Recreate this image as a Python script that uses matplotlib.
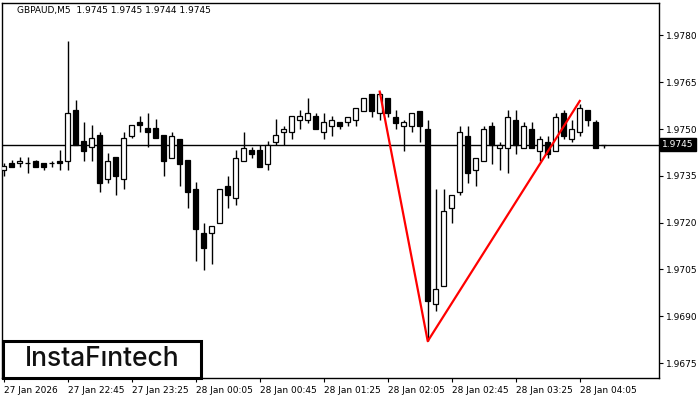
import numpy as np
import matplotlib
matplotlib.use("Agg")
import matplotlib.pyplot as plt
from matplotlib.patches import Rectangle

# GBPAUD M5 candles, bar 0 = 27 Jan 22:05
opens = [1.97370, 1.97390, 1.97390, 1.97390, 1.97399, 1.97390, 1.97390, 1.97399, 1.97399, 1.97561,
         1.97461, 1.97441, 1.97480, 1.97340, 1.97410, 1.97340, 1.97479, 1.97522, 1.97502, 1.97502,
         1.97480, 1.97408, 1.97469, 1.97400, 1.97309, 1.97168, 1.97166, 1.97200, 1.97318, 1.97280,
         1.97399, 1.97432, 1.97432, 1.97389, 1.97460, 1.97489, 1.97489, 1.97530, 1.97530, 1.97541,
         1.97489, 1.97511, 1.97521, 1.97521, 1.97530, 1.97559, 1.97611, 1.97550, 1.97601, 1.97540,
         1.97511, 1.97511, 1.97559, 1.97501, 1.96940, 1.96997, 1.97248, 1.97298, 1.97479, 1.97370,
         1.97399, 1.97511, 1.97440, 1.97440, 1.97530, 1.97440, 1.97501, 1.97431, 1.97460, 1.97431,
         1.97550, 1.97468, 1.97489, 1.97560, 1.97521, 1.97450]
highs = [1.97390, 1.97400, 1.97409, 1.97409, 1.97400, 1.97390, 1.97399, 1.97432, 1.97782, 1.97593,
         1.97522, 1.97512, 1.97490, 1.97423, 1.97410, 1.97490, 1.97512, 1.97541, 1.97551, 1.97532,
         1.97480, 1.97489, 1.97469, 1.97400, 1.97329, 1.97200, 1.97190, 1.97309, 1.97350, 1.97432,
         1.97489, 1.97441, 1.97450, 1.97461, 1.97531, 1.97511, 1.97541, 1.97560, 1.97601, 1.97550,
         1.97550, 1.97541, 1.97521, 1.97540, 1.97569, 1.97601, 1.97611, 1.97620, 1.97601, 1.97560,
         1.97530, 1.97550, 1.97559, 1.97530, 1.97309, 1.97309, 1.97290, 1.97511, 1.97511, 1.97408,
         1.97511, 1.97521, 1.97460, 1.97560, 1.97560, 1.97521, 1.97521, 1.97479, 1.97479, 1.97550,
         1.97560, 1.97530, 1.97579, 1.97560, 1.97530, 1.97450]
lows = [1.97350, 1.97379, 1.97379, 1.97360, 1.97379, 1.97370, 1.97379, 1.97370, 1.97370, 1.97450,
        1.97399, 1.97399, 1.97299, 1.97327, 1.97289, 1.97308, 1.97470, 1.97490, 1.97441, 1.97470,
        1.97350, 1.97408, 1.97317, 1.97247, 1.97077, 1.97048, 1.97067, 1.97200, 1.97247, 1.97256,
        1.97399, 1.97408, 1.97378, 1.97369, 1.97450, 1.97450, 1.97468, 1.97500, 1.97520, 1.97500,
        1.97468, 1.97479, 1.97500, 1.97510, 1.97510, 1.97559, 1.97539, 1.97530, 1.97539, 1.97500,
        1.97430, 1.97489, 1.97459, 1.96820, 1.96916, 1.96997, 1.97199, 1.97288, 1.97327, 1.97317,
        1.97399, 1.97388, 1.97369, 1.97359, 1.97420, 1.97440, 1.97440, 1.97399, 1.97408, 1.97431,
        1.97468, 1.97459, 1.97479, 1.97510, 1.97440, 1.97440]
closes = [1.97381, 1.97379, 1.97399, 1.97390, 1.97379, 1.97379, 1.97390, 1.97390, 1.97550, 1.97450,
          1.97430, 1.97470, 1.97327, 1.97399, 1.97350, 1.97470, 1.97512, 1.97512, 1.97490, 1.97470,
          1.97399, 1.97478, 1.97388, 1.97298, 1.97179, 1.97118, 1.97190, 1.97309, 1.97288, 1.97408,
          1.97440, 1.97420, 1.97378, 1.97450, 1.97480, 1.97501, 1.97541, 1.97541, 1.97550, 1.97500,
          1.97521, 1.97530, 1.97511, 1.97540, 1.97569, 1.97601, 1.97559, 1.97611, 1.97550, 1.97520,
          1.97521, 1.97550, 1.97510, 1.96948, 1.96987, 1.97238, 1.97290, 1.97489, 1.97359, 1.97408,
          1.97501, 1.97450, 1.97449, 1.97540, 1.97450, 1.97511, 1.97440, 1.97469, 1.97421, 1.97540,
          1.97479, 1.97501, 1.97569, 1.97530, 1.97440, 1.97450]

# pattern line (bar index, price)
pattern_bars = [47, 53, 72]
pattern_prices = [1.97620, 1.96820, 1.97590]

last_price = 1.9745
yticks = [1.9675, 1.9690, 1.9705, 1.9720, 1.9735, 1.9750, 1.9765, 1.9780]
xtick_bars = [0, 8, 16, 24, 32, 40, 48, 56, 64, 72]
xtick_labels = ["27 Jan 2026", "27 Jan 22:45", "27 Jan 23:25", "28 Jan 00:05", "28 Jan 00:45",
                "28 Jan 01:25", "28 Jan 02:05", "28 Jan 02:45", "28 Jan 03:25", "28 Jan 04:05"]
title = "GBPAUD,M5  1.9745 1.9745 1.9744 1.9745"

fig = plt.figure(figsize=(7, 4), dpi=100)
ax = fig.add_axes([2 / 700, 22 / 400, 657 / 700, 375 / 400])

o = np.array(opens)
h = np.array(highs)
l = np.array(lows)
c = np.array(closes)
x = np.arange(len(o))

ax.vlines(x, l, h, color="black", linewidth=1, zorder=2)
bull = c >= o
bottom = np.minimum(o, c)
height = np.abs(c - o)
ax.bar(x[bull], height[bull], bottom=bottom[bull], width=0.6, color="white",
       edgecolor="black", linewidth=0.9, zorder=3)
ax.bar(x[~bull], height[~bull], bottom=bottom[~bull], width=0.6, color="black",
       edgecolor="black", linewidth=0.9, zorder=3)

ax.axhline(last_price, color="black", linewidth=1, zorder=1)
ax.plot(pattern_bars, pattern_prices, color="red", linewidth=1.6, zorder=4)

ax.set_xlim(-0.2, 81.9)
ax.set_ylim(1.96702, 1.97904)

ax.yaxis.tick_right()
ax.set_yticks(yticks)
ax.set_yticklabels([f"{v:.4f}" for v in yticks])
ax.set_xticks(xtick_bars)
ax.set_xticklabels(xtick_labels, ha="left")
ax.tick_params(axis="both", labelsize=6.5, length=3, width=0.8, pad=2, colors="black")
ax.tick_params(axis="x", pad=3)
for sp in ax.spines.values():
    sp.set_linewidth(1)

ax.text(1.005, (last_price - 1.96702) / (1.97904 - 1.96702), f"{last_price:.4f}",
        transform=ax.transAxes, fontsize=6.5, color="white", va="center", ha="left",
        bbox=dict(boxstyle="square,pad=0.2", facecolor="black", edgecolor="black"))

ax.text(15 / 657, 1 - 8 / 375, title, transform=ax.transAxes, fontsize=6.5,
        va="center", ha="left")

# logo box
fig.patches.append(Rectangle((3 / 700, 22 / 400), 198 / 700, 37 / 400, transform=fig.transFigure,
                             facecolor="white", edgecolor="black", linewidth=2.2, zorder=10))
fig.text(102 / 700, 41 / 400, "InstaF\u0131ntech", fontsize=19, family=["Inter", "DejaVu Sans"],
         weight="medium", ha="center", va="center", color="#111111", zorder=11)

fig.savefig("out.png", dpi=100)
